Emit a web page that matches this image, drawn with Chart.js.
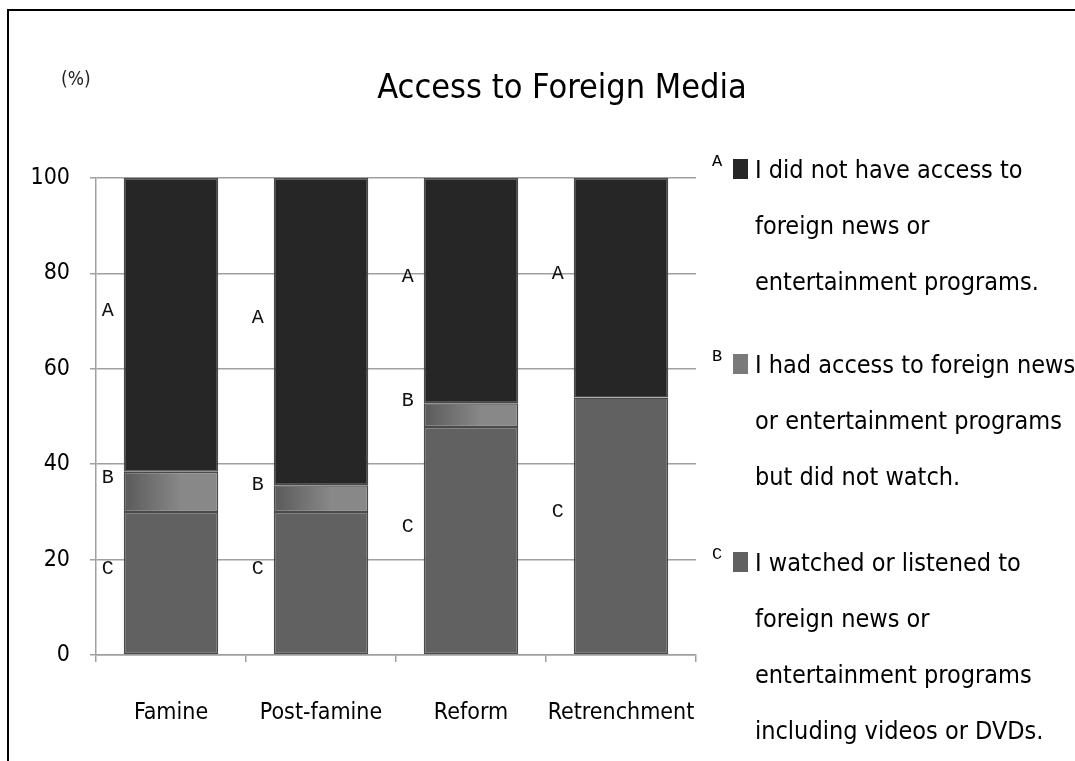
<!DOCTYPE html>
<html>
<head>
<meta charset="utf-8">
<script src="https://cdn.jsdelivr.net/npm/chart.js@4.4.1/dist/chart.umd.min.js"></script>
<style>
  body { margin: 0; background: #fff; }
  #wrap { position: relative; width: 1075px; height: 761px; overflow: hidden; }
  #frame { position: absolute; left: 7px; top: 9px; width: 1100px; height: 800px; border: 2px solid #000; box-sizing: border-box; }
  #title { position: absolute; left: 300px; width: 524px; top: 66px; text-align: center; font: 34px "DejaVu Sans Condensed", sans-serif; color: #000; }
  #unit { position: absolute; left: 61px; top: 67px; font: 19px "DejaVu Sans Condensed", sans-serif; color: #222; }
  .leg { position: absolute; left: 712px; font: 25px/56px "DejaVu Sans Condensed", sans-serif; color: #000; }
  .leg .row { position: relative; padding-left: 43px; white-space: nowrap; }
  .leg .key { position: absolute; left: 0; top: 0; font: 17px/40px "Liberation Mono", monospace; }
  .leg .sw { position: absolute; left: 21px; top: 17px; width: 15px; height: 20px; }
  canvas { position: absolute; left: 0; top: 0; }
</style>
</head>
<body>
<div id="wrap">
  <div id="frame"></div>
  <canvas id="c" width="1075" height="761"></canvas>
  <div id="title">Access to Foreign Media</div>
  <div id="unit">(%)</div>
  <div id="legend"></div>
</div>
<script>
// categories and values (%)
const periods = ["Famine", "Post-famine", "Reform", "Retrenchment"];
const watched = [30, 30, 47.8, 54];          // C
const didNotWatch = [8.4, 5.6, 5, 0];        // B
const noAccess = [61.6, 64.4, 47.2, 46];     // A
const yTicks = [0, 20, 40, 60, 80, 100];

const keys = ["C", "B", "A"];
const legendLines = {
  A: ["I did not have access to", "foreign news or", "entertainment programs."],
  B: ["I had access to foreign news", "or entertainment programs", "but did not watch."],
  C: ["I watched or listened to", "foreign news or", "entertainment programs", "including videos or DVDs."]
};

const FONT = "'DejaVu Sans Condensed', 'Liberation Sans', sans-serif";

function gradB(context) {
  const chart = context.chart;
  const area = chart.chartArea;
  if (!area || !chart.scales.x) return "#7a7a7a";
  const x = chart.scales.x.getPixelForValue(context.dataIndex);
  const g = chart.ctx.createLinearGradient(x - 47, 0, x + 10, 0);
  g.addColorStop(0, "#5a5a5a");
  g.addColorStop(1, "#888888");
  return g;
}

// A/B/C labels left of each bar
const letterPlugin = {
  id: "letters",
  afterDatasetsDraw(chart) {
    const ctx = chart.ctx;
    const y = chart.scales.y;
    ctx.save();
    ctx.font = "20px 'Liberation Mono', monospace";
    ctx.fillStyle = "#111";
    ctx.textAlign = "center";
    ctx.textBaseline = "middle";
    const meta = chart.getDatasetMeta(0);
    meta.data.forEach((bar, i) => {
      const left = bar.x - bar.width / 2 - 16;
      let base = 0;
      [watched, didNotWatch, noAccess].forEach((arr, k) => {
        const v = arr[i];
        if (v > 0) ctx.fillText(keys[k], left, y.getPixelForValue(base + v / 2 + 3));
        base += v;
      });
    });
    ctx.restore();
  }
};

const ds = [
  { label: "C", data: watched, backgroundColor: "#616161" },
  { label: "B", data: didNotWatch, backgroundColor: gradB },
  { label: "A", data: noAccess, backgroundColor: "#262626" }
];

new Chart(document.getElementById("c"), {
  type: "bar",
  data: {
    labels: periods,
    datasets: ds.map(d => Object.assign(d, {
      borderColor: "#4a4a4a", borderWidth: 1.5, borderSkipped: false,
      barPercentage: 0.63, categoryPercentage: 1
    }))
  },
  options: {
    responsive: false,
    animation: false,
    layout: { padding: { top: 178, right: 379, left: 0, bottom: 0 } },
    plugins: { legend: { display: false }, tooltip: { enabled: false } },
    scales: {
      x: {
        stacked: true,
        afterFit: s => { s.height = 106; },
        grid: { drawOnChartArea: false, offset: true, tickLength: 7, color: "#a0a0a0", lineWidth: 1.5 },
        border: { color: "#a0a0a0", width: 1.5 },
        ticks: { padding: 37, color: "#000", autoSkip: false, maxRotation: 0, minRotation: 0, font: { family: FONT, size: 23 } }
      },
      y: {
        stacked: true, min: 0, max: 100,
        afterFit: s => { s.width = 96; },
        afterBuildTicks: s => { s.ticks = yTicks.map(v => ({ value: v })); },
        grid: { color: "#a0a0a0", lineWidth: 1.5, tickLength: 6 },
        border: { color: "#a0a0a0", width: 1.5 },
        ticks: { padding: 20, color: "#000", font: { family: FONT, size: 23 } }
      }
    }
  },
  plugins: [letterPlugin]
});

// legend text
const legTop = { A: 142, B: 337, C: 535 };
const colors = { A: "#262626", B: "#7a7a7a", C: "#616161" };
const legend = document.getElementById("legend");
["A", "B", "C"].forEach(k => {
  const box = document.createElement("div");
  box.className = "leg";
  box.style.top = legTop[k] + "px";
  box.innerHTML = legendLines[k].map((t, i) =>
    `<div class="row">${i === 0 ? `<span class="key">${k}</span><span class="sw" style="background:${colors[k]}"></span>` : ""}${t}</div>`
  ).join("");
  legend.appendChild(box);
});
</script>
</body>
</html>
